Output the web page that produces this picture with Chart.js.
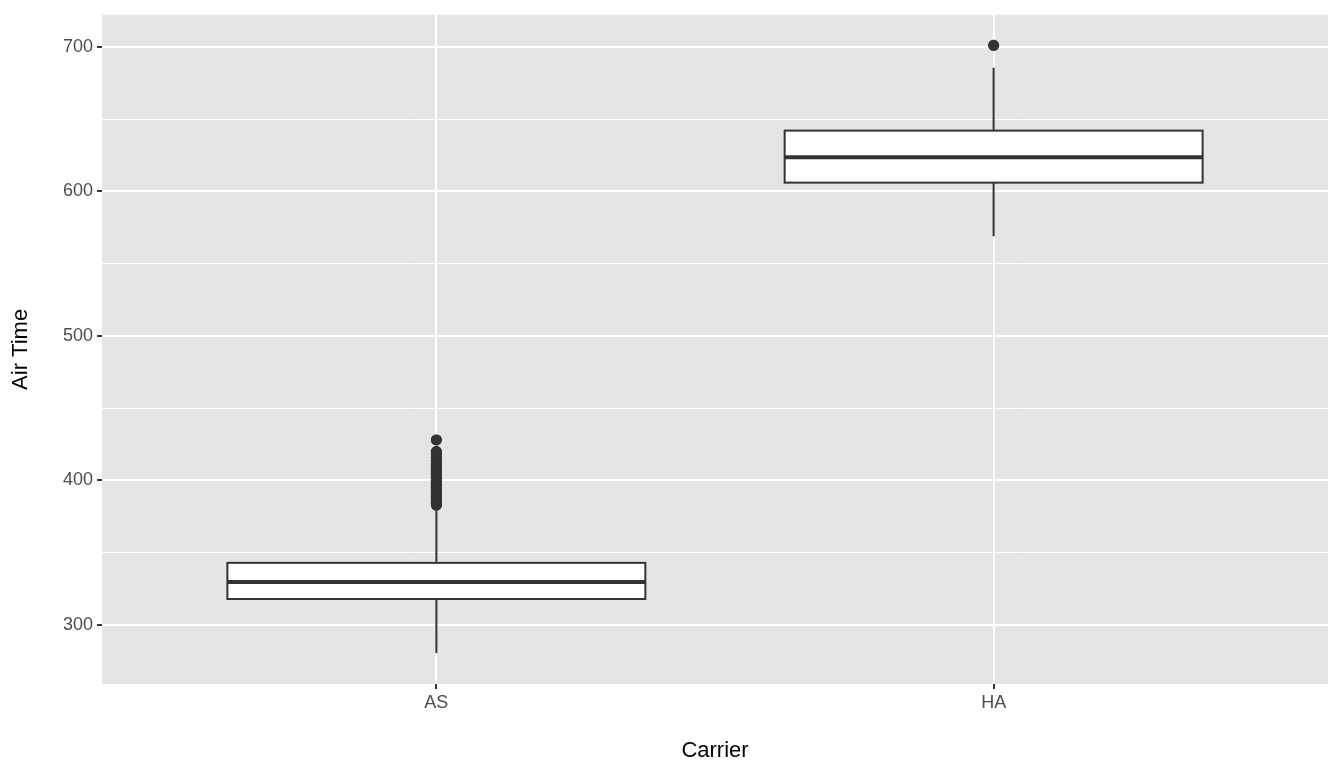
<!DOCTYPE html>
<html><head><meta charset="utf-8">
<script src="https://cdn.jsdelivr.net/npm/chart.js@4"></script>
<style>body{margin:0;background:#fff}#w{width:1344px;height:768px}</style>
</head><body><div id="w"><canvas id="c"></canvas></div>
<script>
const categories = ["AS","HA"];
const q1 = [318, 606];
const median = [329.7, 623.5];
const q3 = [343, 642];
const whiskerLow = [280.7, 569];
const whiskerHigh = [382.5, 685.5];
const outliersAS = [383,384,385,386,387,388,389,390,391,392,393,394,395,396,397,398,399,400,401,402,403,404,405,406,407,408,409,410,411,412,414,416,418,420,428];
const outliersHA = [701];
const yTicks = [300,350,400,450,500,550,600,650,700];

const outPts = [];
outliersAS.forEach(v=>outPts.push({x:1,y:v}));
outliersHA.forEach(v=>outPts.push({x:2,y:v}));

const boxPlugin = {
  id:'box',
  afterDatasetsDraw(chart){
    const ctx=chart.ctx, xs=chart.scales.x, ys=chart.scales.y;
    ctx.save();
    ctx.strokeStyle='#333333'; ctx.lineCap='butt';
    categories.forEach((c,i)=>{
      const cx=xs.getPixelForValue(i+1);
      const l=xs.getPixelForValue(i+1-0.375), r=xs.getPixelForValue(i+1+0.375);
      ctx.lineWidth=2;
      ctx.beginPath();
      ctx.moveTo(cx,ys.getPixelForValue(whiskerLow[i]));ctx.lineTo(cx,ys.getPixelForValue(q1[i]));
      ctx.moveTo(cx,ys.getPixelForValue(q3[i]));ctx.lineTo(cx,ys.getPixelForValue(whiskerHigh[i]));
      ctx.stroke();
      const t=ys.getPixelForValue(q3[i]), b=ys.getPixelForValue(q1[i]);
      ctx.fillStyle='#ffffff'; ctx.fillRect(l,t,r-l,b-t);
      ctx.strokeRect(l,t,r-l,b-t);
      ctx.lineWidth=4;
      const m=ys.getPixelForValue(median[i]);
      ctx.beginPath();ctx.moveTo(l,m);ctx.lineTo(r,m);ctx.stroke();
    });
    ctx.restore();
    const meta=chart.getDatasetMeta(0);
    meta.data.forEach(p=>p.draw(ctx));
  }
};
const bgPlugin={id:'bg',beforeDraw(chart){const a=chart.chartArea,ctx=chart.ctx;ctx.save();ctx.fillStyle='#e5e5e5';ctx.fillRect(a.left,a.top,a.right-a.left,a.bottom-a.top);ctx.restore();}};

new Chart(document.getElementById('c'),{
  type:'scatter',
  data:{datasets:[{data:outPts,backgroundColor:'#333333',borderWidth:0,pointRadius:5.5}]},
  options:{
    responsive:true,maintainAspectRatio:false,animation:false,
    layout:{padding:{top:14,right:16,left:4,bottom:0}},
    plugins:{legend:{display:false},tooltip:{enabled:false}},
    scales:{
      x:{type:'linear',min:0.4,max:2.6,
        afterBuildTicks(s){s.ticks=[{value:1},{value:2}];},
        afterFit(s){s.height=84;},
        ticks:{callback:v=>categories[v-1]||'',color:'#4d4d4d',font:{family:'Liberation Sans',size:18},padding:3},
        grid:{color:'#ffffff',lineWidth:2,drawTicks:true,tickLength:5,tickColor:'#333333'},
        border:{display:false},
        title:{display:true,text:'Carrier',color:'#000',font:{family:'Liberation Sans',size:22},padding:{top:6}}},
      y:{min:259.2,max:722.1,
        afterBuildTicks(s){s.ticks=yTicks.map(v=>({value:v}));},
        afterFit(s){s.width=98;},
        ticks:{callback:v=>v%100===0?String(v):'',color:'#4d4d4d',font:{family:'Liberation Sans',size:18},padding:4},
        grid:{color:'#ffffff',lineWidth:c=>c.tick&&c.tick.value%100===0?2:1,tickLength:5,tickColor:c=>c.tick&&c.tick.value%100===0?'#333333':'rgba(0,0,0,0)'},
        border:{display:false},
        title:{display:true,text:'Air Time',color:'#000',font:{family:'Liberation Sans',size:22},padding:{bottom:4}}}
    }
  },
  plugins:[bgPlugin,boxPlugin]
});
</script></body></html>
